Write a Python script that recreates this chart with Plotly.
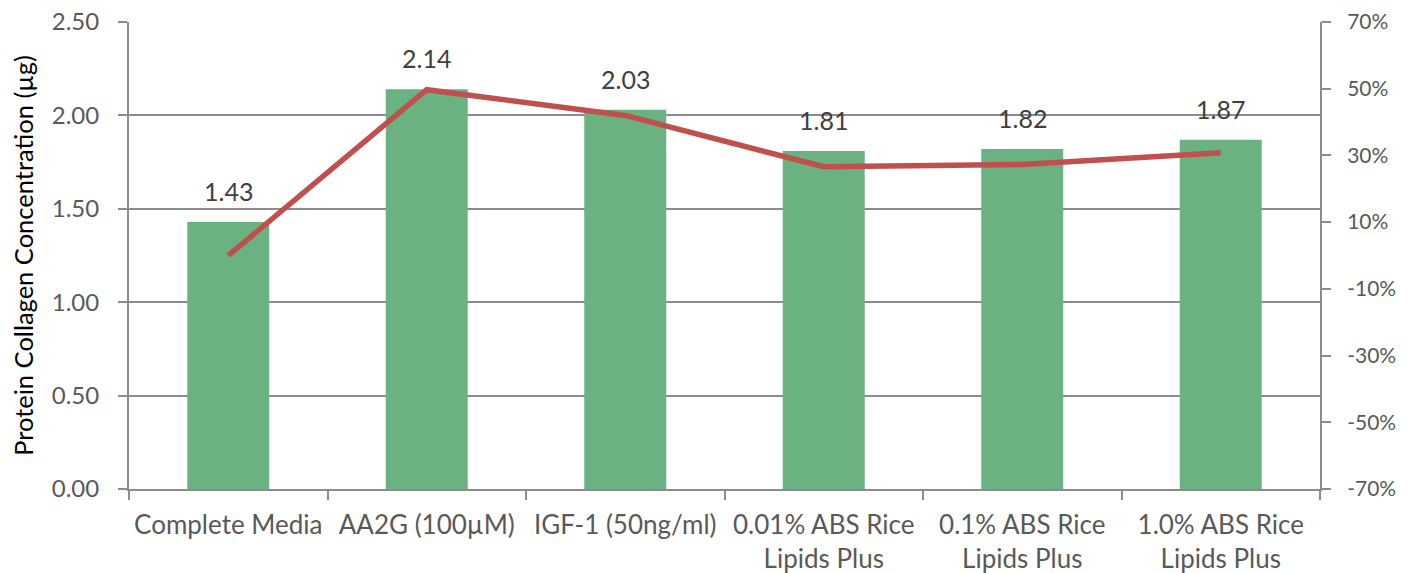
import plotly.graph_objects as go

categories = ["Complete Media", "AA2G (100µM)", "IGF-1 (50ng/ml)",
              "0.01% ABS Rice<br>Lipids Plus", "0.1% ABS Rice<br>Lipids Plus",
              "1.0% ABS Rice<br>Lipids Plus"]
collagen = [1.43, 2.14, 2.03, 1.81, 1.82, 1.87]
pct_change = [0.0, 49.7, 42.0, 26.6, 27.3, 30.8]
left_ticks = [0, 0.5, 1.0, 1.5, 2.0, 2.5]
right_ticks = [-70, -50, -30, -10, 10, 30, 50, 70]
right_labels = [f"{v}%" for v in right_ticks]

FONT = "Lato"
AXIS_COLOR = "#8c8c8c"
TEXT_COLOR = "#595959"

fig = go.Figure()
fig.add_trace(go.Bar(x=categories, y=collagen, marker_color="#6ab282",
                     marker_line_width=0, showlegend=False))
fig.add_trace(go.Scatter(x=categories, y=pct_change, mode="lines", yaxis="y2",
                         line=dict(color="#c0504d", width=5.5), showlegend=False))

for c, v in zip(categories, collagen):
    fig.add_annotation(x=c, y=v, text=f"{v:.2f}", showarrow=False,
                       yanchor="bottom", yshift=14,
                       font=dict(family=FONT, size=25, color="#404040"))

fig.update_layout(
    width=1408, height=573,
    margin=dict(l=121, r=96, t=14, b=92),
    plot_bgcolor="white", paper_bgcolor="white",
    bargap=0.587,
    font=dict(family=FONT, size=25, color=TEXT_COLOR),
    xaxis=dict(type="category", tickson="boundaries", ticks="outside",
               ticklen=9, tickwidth=2, tickcolor=AXIS_COLOR,
               showline=True, linecolor=AXIS_COLOR, linewidth=2,
               showgrid=False, automargin=False, ticklabelstandoff=12,
               ticklabeloverflow="allow",
               tickfont=dict(family=FONT, size=26, color=TEXT_COLOR)),
    yaxis=dict(range=[0, 2.5], tickvals=left_ticks, tickformat=".2f",
               ticks="outside", ticklen=9, tickwidth=2, tickcolor=AXIS_COLOR,
               showline=True, linecolor=AXIS_COLOR, linewidth=2,
               showgrid=True, gridcolor=AXIS_COLOR, gridwidth=2, zeroline=False,
               automargin=False, ticklabelstandoff=14,
               ticklabeloverflow="allow",
               tickfont=dict(family=FONT, size=24, color=TEXT_COLOR),
               title=dict(text="Protein Collagen Concentration (µg)",
                          font=dict(family=FONT, size=25.5, color="#000000"),
                          standoff=14)),
    yaxis2=dict(range=[-70, 70], tickvals=right_ticks, ticktext=right_labels,
                overlaying="y", side="right",
                ticks="outside", ticklen=9, tickwidth=2, tickcolor=AXIS_COLOR,
                showline=True, linecolor=AXIS_COLOR, linewidth=2,
                showgrid=False, zeroline=False, automargin=False,
                ticklabelstandoff=12, ticklabeloverflow="allow",
                tickfont=dict(family=FONT, size=21, color=TEXT_COLOR)),
)

fig.write_html("out.html")
